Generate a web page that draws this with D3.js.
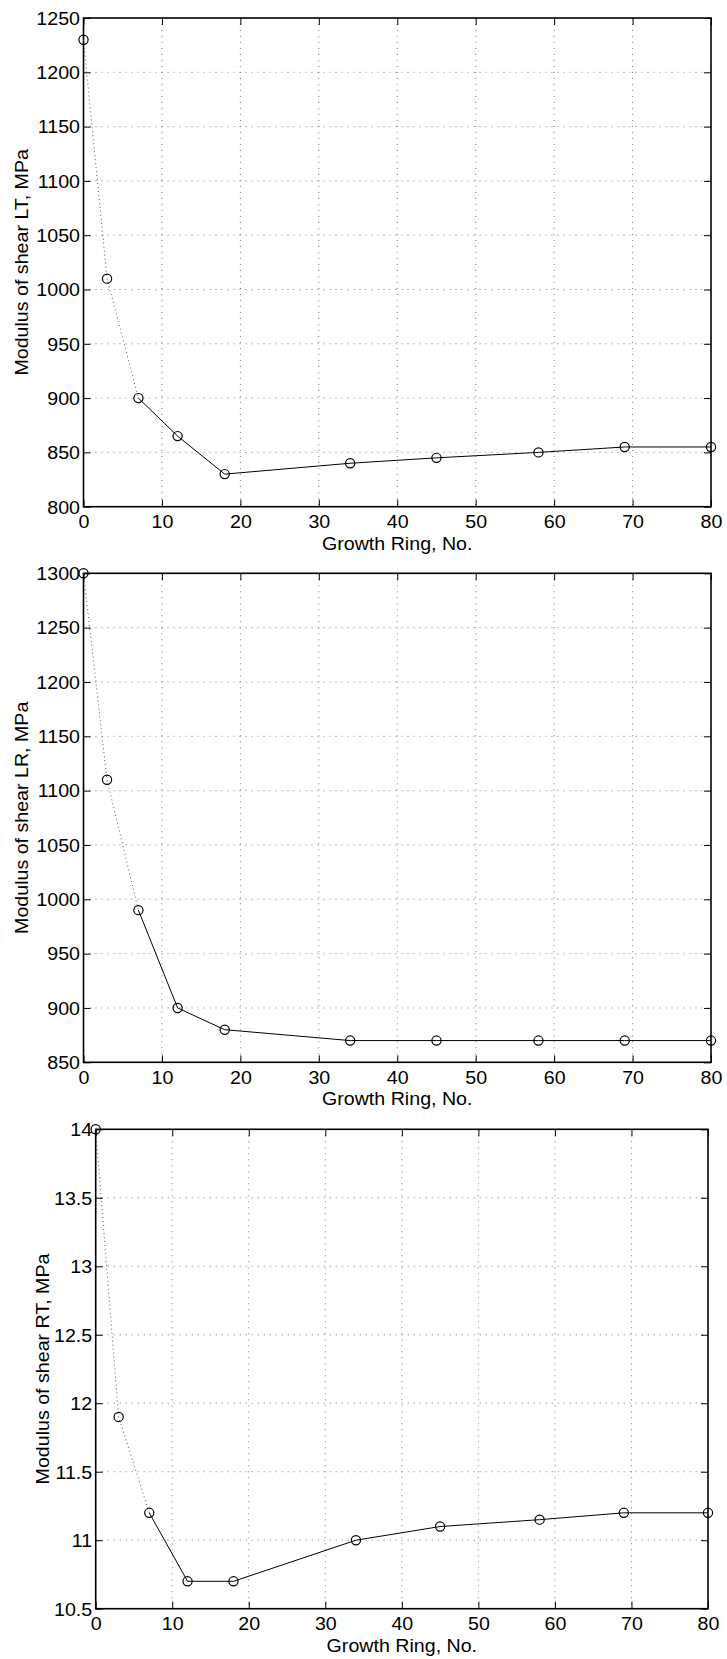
<!DOCTYPE html>
<html><head><meta charset="utf-8">
<script src="https://cdn.jsdelivr.net/npm/d3@7"></script>
<style>
body{margin:0;background:#fff}
svg{display:block}
text{font-family:"Liberation Sans",Arial,Helvetica,sans-serif;fill:#000}
</style>
</head><body>
<svg id="c" width="727" height="1659"></svg>
<script>
// ---- data ----
const rings   = [0, 3, 7, 12, 18, 34, 45, 58, 69, 80];
const shearLT = [1230, 1010, 900, 865, 830, 840, 845, 850, 855, 855];
const shearLR = [1300, 1110, 990, 900, 880, 870, 870, 870, 870, 870];
const shearRT = [14, 11.9, 11.2, 10.7, 10.7, 11.0, 11.1, 11.15, 11.2, 11.2];
const xTicks  = [0, 10, 20, 30, 40, 50, 60, 70, 80];
const ticksLT = [800, 850, 900, 950, 1000, 1050, 1100, 1150, 1200, 1250];
const ticksLR = [850, 900, 950, 1000, 1050, 1100, 1150, 1200, 1250, 1300];
const ticksRT = [10.5, 11, 11.5, 12, 12.5, 13, 13.5, 14];
const xLabel  = "Growth Ring, No.";
const yLabelLT = "Modulus of shear LT, MPa";
const yLabelLR = "Modulus of shear LR, MPa";
const yLabelRT = "Modulus of shear RT, MPa";

// ---- layout ----
const panels = [
  {vals: shearLT, yt: ticksLT, lab: yLabelLT, L: 83.5, R: 711, T: 18,     B: 506.7,  labX: 28},
  {vals: shearLR, yt: ticksLR, lab: yLabelLR, L: 83.5, R: 711, T: 573.3,  B: 1062.3, labX: 28},
  {vals: shearRT, yt: ticksRT, lab: yLabelRT, L: 95.7, R: 708, T: 1129.3, B: 1608.7, labX: 49}
];
const FS = 18, STRETCH = 1.09, TICK = 7;
const svg = d3.select("#c");

function stretch(sel){
  sel.each(function(){
    const w = this.getComputedTextLength();
    d3.select(this).attr("textLength", w*STRETCH).attr("lengthAdjust","spacingAndGlyphs");
  });
}

panels.forEach(p => {
  const x = d3.scaleLinear().domain([xTicks[0], xTicks[xTicks.length-1]]).range([p.L, p.R]);
  const y = d3.scaleLinear().domain([p.yt[0], p.yt[p.yt.length-1]]).range([p.B, p.T]);
  const g = svg.append("g");

  // grid
  g.append("g").selectAll("line").data(xTicks.slice(1,-1)).join("line")
    .attr("x1", d=>x(d)).attr("x2", d=>x(d)).attr("y1", p.T).attr("y2", p.B)
    .attr("stroke", "#777").attr("stroke-width", 1).attr("stroke-dasharray", "1,5");
  g.append("g").selectAll("line").data(p.yt.slice(1,-1)).join("line")
    .attr("y1", d=>y(d)).attr("y2", d=>y(d)).attr("x1", p.L).attr("x2", p.R)
    .attr("stroke", "#777").attr("stroke-width", 1).attr("stroke-dasharray", "1,5");

  // axes
  const ax = (gen, tr) => {
    const a = g.append("g").attr("transform", tr).call(gen);
    a.select(".domain").remove();
    a.selectAll(".tick line").attr("stroke", "#000").attr("stroke-width", 1);
    return a;
  };
  const bottom = ax(d3.axisBottom(x).tickValues(xTicks).tickSizeInner(-TICK).tickSizeOuter(0).tickPadding(TICK+9).tickFormat(d3.format("d")), `translate(0,${p.B})`);
  ax(d3.axisTop(x).tickValues(xTicks).tickSizeInner(-TICK).tickSizeOuter(0).tickFormat(""), `translate(0,${p.T})`);
  const left = ax(d3.axisLeft(y).tickValues(p.yt).tickSizeInner(-TICK).tickSizeOuter(0).tickPadding(3.5).tickFormat(d => String(d)), `translate(${p.L},0)`);
  ax(d3.axisRight(y).tickValues(p.yt).tickSizeInner(-TICK).tickSizeOuter(0).tickFormat(""), `translate(${p.R},0)`);
  bottom.selectAll("text").attr("font-size", FS).attr("font-family", null).attr("dy", "0.71em").call(stretch);
  left.selectAll("text").attr("font-size", FS).attr("font-family", null).attr("x", -3.5).attr("dy", "0.35em").call(stretch);
  bottom.selectAll("text").attr("y", 9);

  // frame
  g.append("rect").attr("x", p.L).attr("y", p.T).attr("width", p.R-p.L).attr("height", p.B-p.T)
    .attr("fill", "none").attr("stroke", "#000").attr("stroke-width", 1.6);

  // labels
  g.append("text").attr("x", (p.L+p.R)/2).attr("y", p.B+43).attr("text-anchor", "middle")
    .attr("font-size", FS).text(xLabel).call(stretch);
  g.append("text").attr("transform", `translate(${p.labX},${(p.T+p.B)/2}) rotate(-90)`)
    .attr("text-anchor", "middle").attr("font-size", FS).text(p.lab).call(stretch);

  // data
  const pts = rings.map((r,i) => [r, p.vals[i]]);
  const line = d3.line().x(d=>x(d[0])).y(d=>y(d[1]));
  g.append("path").attr("d", line(pts.slice(0,3))).attr("fill","none")
    .attr("stroke", "#555").attr("stroke-width", 1).attr("stroke-dasharray", "1,3");
  g.append("path").attr("d", line(pts.slice(2))).attr("fill","none")
    .attr("stroke", "#000").attr("stroke-width", 1);
  g.append("g").selectAll("circle").data(pts).join("circle")
    .attr("cx", d=>x(d[0])).attr("cy", d=>y(d[1])).attr("r", 4.6)
    .attr("fill", "none").attr("stroke", "#000").attr("stroke-width", 1.2);
});
</script>
</body></html>
